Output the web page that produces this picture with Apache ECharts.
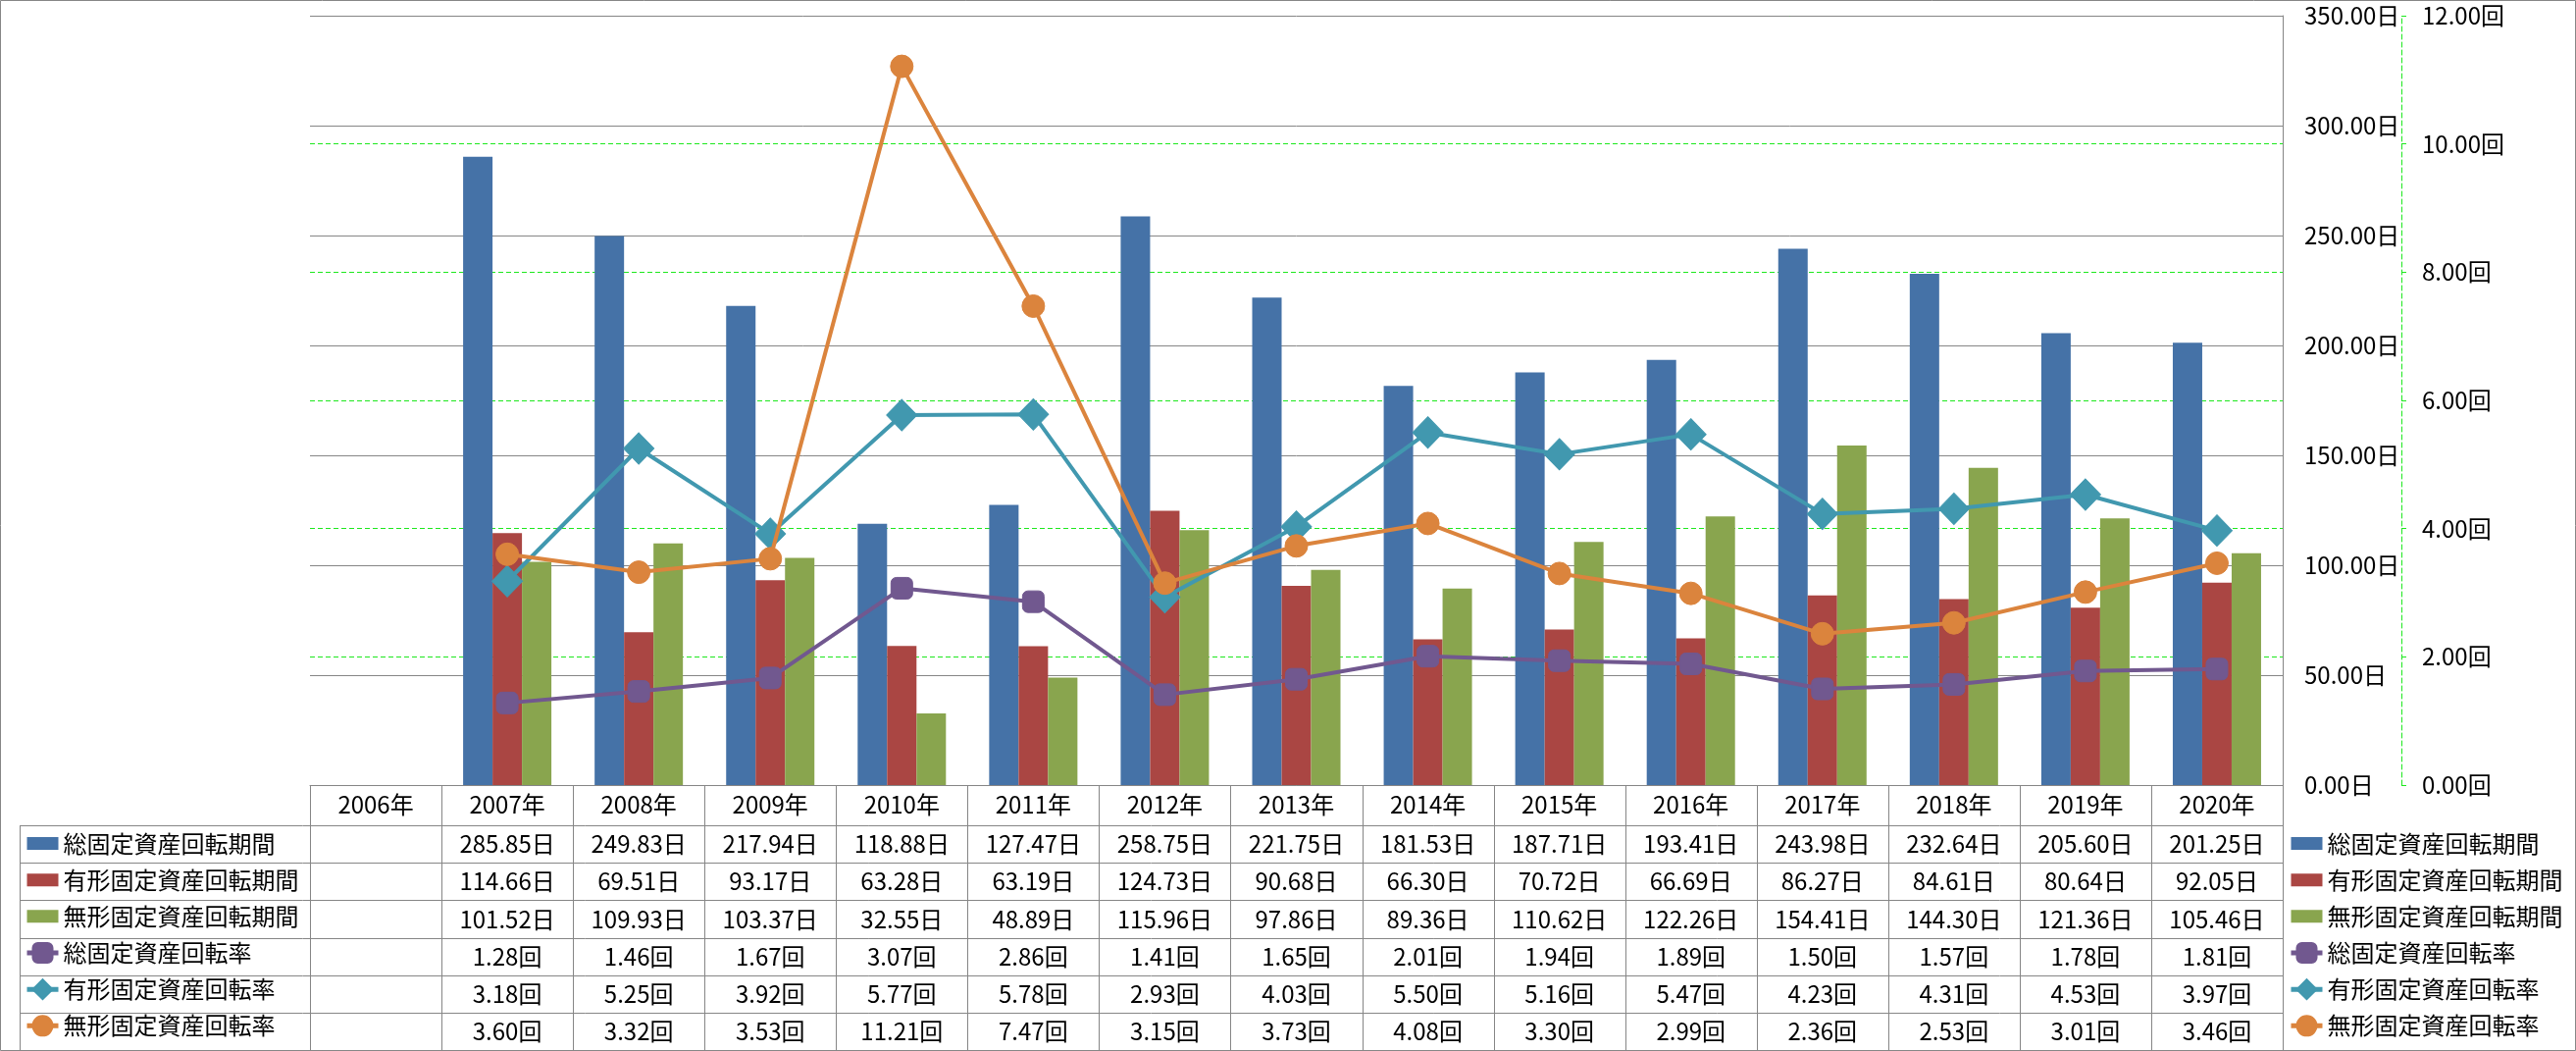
<!DOCTYPE html>
<html><head><meta charset="utf-8">
<style>html,body{margin:0;padding:0;background:#fff}#c{width:2626px;height:1071px}</style>
<script src="https://cdn.jsdelivr.net/npm/echarts@6/dist/echarts.min.js"></script>
</head><body><div id="c"></div>
<script>
const categories = ['2006年','2007年','2008年','2009年','2010年','2011年','2012年','2013年','2014年','2015年','2016年','2017年','2018年','2019年','2020年'];
const seriesNames = ['総固定資産回転期間','有形固定資産回転期間','無形固定資産回転期間','総固定資産回転率','有形固定資産回転率','無形固定資産回転率'];
const totalPeriod = [null,285.85,249.83,217.94,118.88,127.47,258.75,221.75,181.53,187.71,193.41,243.98,232.64,205.60,201.25];
const tangiblePeriod = [null,114.66,69.51,93.17,63.28,63.19,124.73,90.68,66.30,70.72,66.69,86.27,84.61,80.64,92.05];
const intangiblePeriod = [null,101.52,109.93,103.37,32.55,48.89,115.96,97.86,89.36,110.62,122.26,154.41,144.30,121.36,105.46];
const totalRate = [null,1.28,1.46,1.67,3.07,2.86,1.41,1.65,2.01,1.94,1.89,1.50,1.57,1.78,1.81];
const tangibleRate = [null,3.18,5.25,3.92,5.77,5.78,2.93,4.03,5.50,5.16,5.47,4.23,4.31,4.53,3.97];
const intangibleRate = [null,3.60,3.32,3.53,11.21,7.47,3.15,3.73,4.08,3.30,2.99,2.36,2.53,3.01,3.46];
const dayTicks = {min:0,max:350,interval:50};
const rateTicks = {min:0,max:12,interval:2};

const FONT = '"Noto Sans CJK JP","Noto Sans",sans-serif';
const GRAY = '#868686';
const LIME = '#1EE81E';
const colors = ['#4572A7','#AA4643','#89A54E','#71588F','#4198AF','#DB843D'];
const periodData = [totalPeriod, tangiblePeriod, intangiblePeriod];
const rateData = [totalRate, tangibleRate, intangibleRate];

const chart = echarts.init(document.getElementById('c'), null, {renderer:'canvas'});
const grid = {left:316, right:299, top:16, bottom:271};

const barSeries = periodData.map((d,i)=>({
  name: seriesNames[i], type:'bar', data:d, barWidth:30, barGap:'0%', barCategoryGap:'33%',
  itemStyle:{color:colors[i]}, yAxisIndex:0, z:2
}));
const symbols = ['roundRect','diamond','circle'];
const symSizes = [22,[31,32],23];
const lineSeries = rateData.map((d,i)=>({
  name: seriesNames[i+3], type:'line', data:d, yAxisIndex:1, z:3+i,
  symbol: symbols[i], symbolSize: symSizes[i], showAllSymbol:true,
  lineStyle:{color:colors[i+3], width:4},
  itemStyle:{color:colors[i+3], borderColor:colors[i+3], borderWidth:1}
}));

const legendData = seriesNames.map((n,i)=> i<3 ? {name:n, icon:'path://M0,0L32,0L32,13L0,13Z'} : {name:n});
const legendBase = {
  orient:'vertical', top:847.5, padding:0, itemGap:13.17, itemWidth:32, itemHeight:25,
  symbolKeepAspect:true,
  lineStyle:{width:5},
  textStyle:{fontFamily:FONT, fontSize:24, color:'#000'}, data:legendData, selectedMode:false
};

chart.setOption({
  animation:false,
  backgroundColor:'#fff',
  grid:grid,
  legend:[Object.assign({left:25}, legendBase), Object.assign({left:2333}, legendBase)],
  xAxis:{type:'category', data:categories, position:'bottom',
    axisLine:{lineStyle:{color:GRAY,width:1}}, axisTick:{show:false},
    axisLabel:{fontFamily:FONT, fontSize:24, color:'#000', margin:20, verticalAlign:'middle', interval:0},
    splitLine:{show:false}},
  yAxis:[
    {type:'value', position:'right', z:1, min:dayTicks.min, max:dayTicks.max, interval:dayTicks.interval,
     axisLine:{show:true, lineStyle:{color:GRAY,width:1}}, axisTick:{show:false},
     axisLabel:{fontFamily:FONT, fontSize:24, color:'#000', margin:22, formatter:v=>v.toFixed(2)+'日'},
     splitLine:{show:true, lineStyle:{color:GRAY,width:1}}},
    {type:'value', position:'right', z:0, offset:121, min:rateTicks.min, max:rateTicks.max, interval:rateTicks.interval,
     axisLine:{show:true, lineStyle:{color:LIME,width:1,type:[5,3]}},
     axisTick:{show:true, length:5, lineStyle:{color:LIME,width:1}},
     axisLabel:{fontFamily:FONT, fontSize:24, color:'#000', margin:21, formatter:v=>v.toFixed(2)+'回'},
     splitLine:{show:true, lineStyle:{color:LIME,width:1,type:[5,3]}}}
  ],
  series: barSeries.concat(lineSeries)
});

// data table below the plot
const xs = categories.map(c=>chart.convertToPixel({xAxisIndex:0}, c));
const band = xs[1]-xs[0];
const axisY = chart.convertToPixel({yAxisIndex:0}, 0);
const headerBottom = 841;
const tableBottom = 1070;
const rowH = (tableBottom-headerBottom)/6;
const tableLeft = 20;
const colLeft = xs[0]-band/2;
const colRight = xs[xs.length-1]+band/2;
const g = [];
const line = (x1,y1,x2,y2)=>g.push({type:'line', shape:{x1,y1,x2,y2}, style:{stroke:GRAY, lineWidth:1}, silent:true, z:10});
for (let r=0;r<=6;r++){ const y=Math.round(headerBottom+rowH*r)+0.5; line(tableLeft,y,colRight,y); }
line(tableLeft+0.5, headerBottom, tableLeft+0.5, tableBottom);
for (let k=0;k<=categories.length;k++){ const x=Math.round(colLeft+band*k)+0.5; line(x, axisY, x, tableBottom); }
const rows = [totalPeriod,tangiblePeriod,intangiblePeriod,totalRate,tangibleRate,intangibleRate];
const units = ['日','日','日','回','回','回'];
rows.forEach((d,r)=>{
  d.forEach((v,i)=>{
    if (v==null) return;
    g.push({type:'text', x:xs[i], y:headerBottom+rowH*(r+0.5), silent:true, z:11,
      style:{text:v.toFixed(2)+units[r], fontFamily:FONT, fontSize:24, fill:'#000', align:'center', verticalAlign:'middle'}});
  });
});
g.push({type:'rect', shape:{x:0.5,y:0.5,width:2625,height:1070}, style:{fill:'none', stroke:GRAY, lineWidth:1}, silent:true, z:12});
chart.setOption({graphic:g});
</script></body></html>
